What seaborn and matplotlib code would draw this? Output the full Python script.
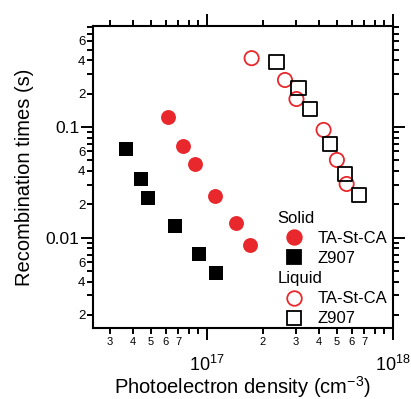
import numpy as np
import seaborn as sns
import matplotlib.pyplot as plt
from matplotlib.lines import Line2D
from matplotlib.ticker import LogLocator, FuncFormatter

# Données (densité en cm^-3, temps en s)
solid_ta_x = [6.15e16, 7.40e16, 8.59e16, 1.10e17, 1.44e17, 1.70e17]
solid_ta_y = [0.122, 0.0677, 0.0463, 0.0236, 0.0136, 0.0086]
solid_z907_x = [3.66e16, 4.42e16, 4.80e16, 6.70e16, 9.12e16, 1.12e17]
solid_z907_y = [0.0636, 0.0338, 0.0229, 0.0127, 0.00705, 0.0048]
liquid_ta_x = [1.74e17, 2.63e17, 3.03e17, 4.24e17, 5.00e17, 5.64e17]
liquid_ta_y = [0.419, 0.266, 0.179, 0.094, 0.0503, 0.0305]
liquid_z907_x = [2.37e17, 3.11e17, 3.58e17, 4.60e17, 5.52e17, 6.57e17]
liquid_z907_y = [0.390, 0.224, 0.146, 0.0706, 0.0376, 0.0243]

x_minor_labels = [2, 3, 4, 5, 6, 7]
y_minor_labels = [2, 4, 6]

red = '#e8282c'

sns.set_style('ticks', {'axes.edgecolor': 'black', 'xtick.color': 'black',
                        'ytick.color': 'black', 'text.color': 'black',
                        'axes.labelcolor': 'black'})
plt.rcParams['font.family'] = ['Liberation Sans', 'DejaVu Sans']
plt.rcParams['mathtext.fontset'] = 'custom'
plt.rcParams['mathtext.rm'] = 'Liberation Sans'
plt.rcParams['mathtext.it'] = 'Liberation Sans'

fig = plt.figure(figsize=(4.11, 3.99), dpi=100)
ax = fig.add_axes([0.226, 0.178, 0.730, 0.757])

# Séries
sns.scatterplot(x=solid_ta_x, y=solid_ta_y, marker='o', s=115, color=red,
                linewidth=0, ax=ax, legend=False, zorder=3)
sns.scatterplot(x=solid_z907_x, y=solid_z907_y, marker='s', s=115, color='black',
                linewidth=0, ax=ax, legend=False, zorder=3)
sns.scatterplot(x=liquid_ta_x, y=liquid_ta_y, marker='o', s=105, facecolor='none',
                edgecolor=red, linewidth=1.3, ax=ax, legend=False, zorder=3)
sns.scatterplot(x=liquid_z907_x, y=liquid_z907_y, marker='s', s=105, facecolor='none',
                edgecolor='black', linewidth=1.3, ax=ax, legend=False, zorder=3)

ax.set_xscale('log')
ax.set_yscale('log')
ax.set_xlim(2.44e16, 1e18)
ax.set_ylim(0.00152, 0.82)

# Graduations
ax.xaxis.set_major_locator(LogLocator(base=10))
ax.xaxis.set_minor_locator(LogLocator(base=10, subs=range(2, 10)))
ax.yaxis.set_major_locator(LogLocator(base=10))
ax.yaxis.set_minor_locator(LogLocator(base=10, subs=range(2, 10)))


def lead_digit(v):
    return int(round(v / 10 ** np.floor(np.log10(v) + 1e-9)))


ax.xaxis.set_major_formatter(FuncFormatter(
    lambda v, p: f"$10^{{{int(round(np.log10(v)))}}}$"))
ax.xaxis.set_minor_formatter(FuncFormatter(
    lambda v, p: str(lead_digit(v)) if lead_digit(v) in x_minor_labels else ""))
ax.yaxis.set_major_formatter(FuncFormatter(lambda v, p: f"{v:g}"))
ax.yaxis.set_minor_formatter(FuncFormatter(
    lambda v, p: str(lead_digit(v)) if lead_digit(v) in y_minor_labels else ""))

ax.tick_params(which='both', direction='out', width=1.4, top=True, right=True,
               labeltop=False, labelright=False, colors='black')
ax.tick_params(which='major', length=8.6)
ax.tick_params(which='minor', length=4.3)
ax.tick_params(axis='x', which='minor', labelsize=8, pad=2.5)
ax.tick_params(axis='x', which='major', labelsize=13, pad=10.5)
ax.tick_params(axis='y', which='major', labelsize=12.5, pad=1)
ax.tick_params(axis='y', which='minor', labelsize=9.5, pad=1)
for sp in ax.spines.values():
    sp.set_linewidth(1.5)
    sp.set_visible(True)

ax.set_xlabel("Photoelectron density (cm$^{-3}$)", fontsize=14.5, labelpad=-0.5)
ax.set_ylabel("Recombination times (s)", fontsize=14.5, labelpad=8.5)

# Légendes
def handle(marker, fc, ec):
    return Line2D([], [], ls='none', marker=marker, markersize=10.5,
                  markerfacecolor=fc, markeredgecolor=ec, markeredgewidth=1.3)

leg1 = ax.legend([handle('o', red, red), handle('s', 'black', 'black')],
                 ['TA-St-CA', 'Z907'], title='Solid', loc='upper left',
                 bbox_to_anchor=(0.587, 0.415), frameon=False, fontsize=12,
                 title_fontsize=12, borderpad=0, handlelength=2.0,
                 handletextpad=0.4, labelspacing=0.3, alignment='left')
ax.add_artist(leg1)
ax.legend([handle('o', 'none', red), handle('s', 'none', 'black')],
          ['TA-St-CA', 'Z907'], title='Liquid', loc='upper left',
          bbox_to_anchor=(0.587, 0.215), frameon=False, fontsize=12,
          title_fontsize=12, borderpad=0, handlelength=2.0,
          handletextpad=0.4, labelspacing=0.3, alignment='left')

fig.savefig('out.png', dpi=100)
